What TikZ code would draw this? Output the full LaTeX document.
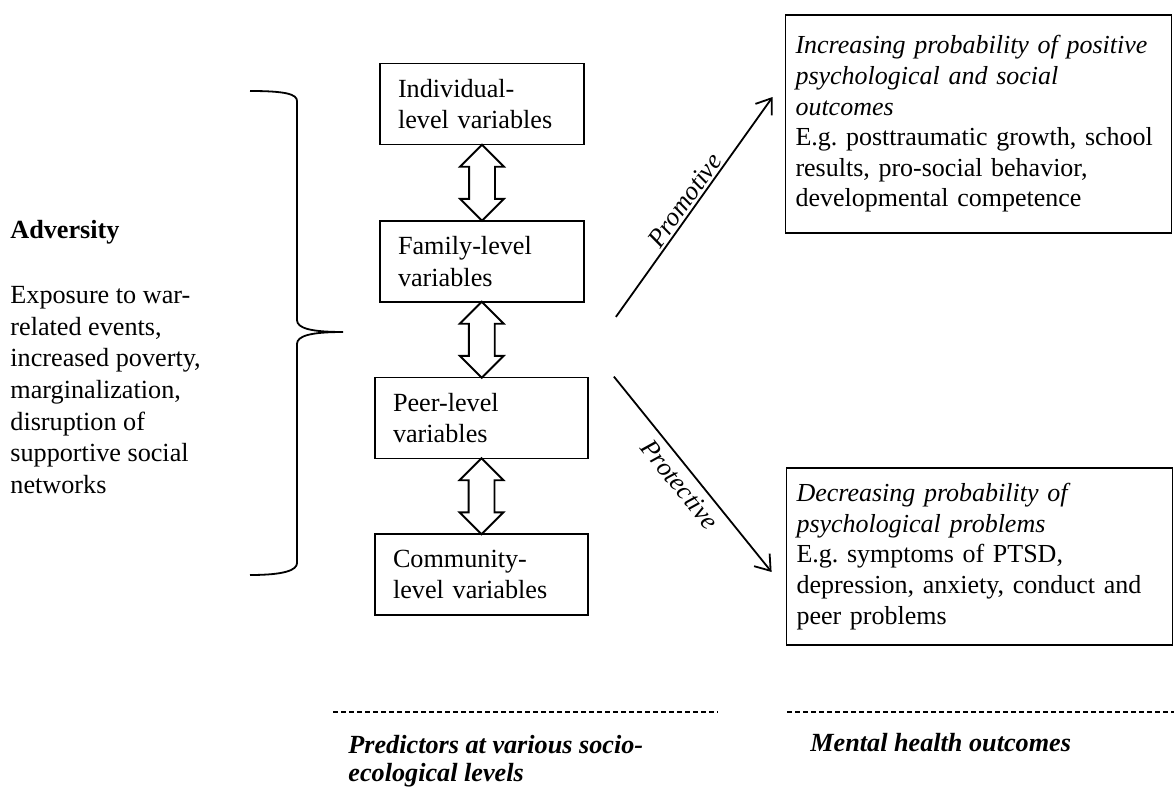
\documentclass[tikz,border=0pt]{standalone}
\usepackage{fontspec}
\setmainfont{Liberation Serif}
\usetikzlibrary{shapes.arrows,arrows.meta,calc}
\frenchspacing
\newcommand{\figfont}{\fontsize{13.1}{15.8}\selectfont}
\tikzset{
  level/.style   = {rectangle, draw, line width=0.9pt, text width=84pt, inner xsep=9pt, minimum height=40.5pt, align=left, font=\figfont},
  outcome/.style = {rectangle, draw, line width=0.9pt, text width=183pt, inner xsep=5pt, align=left, font=\fontsize{13}{15.3}\selectfont},
  dbl/.style     = {double arrow, draw, line width=0.9pt, minimum height=38pt, inner xsep=0pt, inner ysep=6pt, double arrow head extend=4.5pt, rotate=90},
  link/.style    = {line width=0.9pt, -{Straight Barb[length=7pt,width=10pt]}},
  et/.style      = {font=\itshape\figfont},
  txt/.style     = {align=left, inner sep=0pt, font=\figfont},
  head/.style    = {align=left, inner sep=0pt, font=\bfseries\itshape\fontsize{13.1}{14.2}\selectfont},
  rule/.style    = {dash pattern=on 2.5pt off 1.5pt, line width=0.6pt}
}

\begin{document}
\begin{tikzpicture}[x=0.5pt,y=-0.5pt]
  \useasboundingbox (0,0) rectangle (1174,787);
  % left side
  \node[txt, anchor=west, font=\bfseries\figfont] (adv) at (10,232) {Adversity};
  \node[txt, anchor=west] (exp) at (10,390) {Exposure to war-\\related events,\\increased poverty,\\marginalization,\\disruption of\\supportive social\\networks};
  \draw[line width=0.9pt] (250,91) .. controls (285,91) and (297,94) .. (297,101) -- (297,320)
    .. controls (297,328) and (310,332) .. (343,332) .. controls (310,332) and (297,336) .. (297,344)
    -- (297,563) .. controls (297,570) and (285,575) .. (250,575);
  % levels
  \node[level] (ind) at (482,104) {Individual-\\level variables};
  \node[level] (fam) at (482,261.5) {Family-level\\variables};
  \node[level, text width=88.5pt] (peer) at (481.5,418) {Peer-level\\variables};
  \node[level, text width=88.5pt] (com) at (481.5,574.5) {Community-\\level variables};
  \node[dbl] (d1) at ($(ind.south)!.5!(fam.north)$) {};
  \node[dbl] (d2) at ($(fam.south)!.5!(peer.north)$) {};
  \node[dbl] (d3) at ($(peer.south)!.5!(com.north)$) {};
  % outcomes
  \node[outcome, minimum height=109pt] (pos) at (978.5,124) {\itshape Increasing probability of positive\\psychological and social\\outcomes\\\upshape E.g. posttraumatic growth, school\\results, pro-social behavior,\\developmental competence};
  \node[outcome, minimum height=88.5pt] (neg) at (979.5,556.5) {\itshape Decreasing probability of\\psychological problems\\\upshape E.g. symptoms of PTSD,\\depression, anxiety, conduct and\\peer problems};
  \draw[link] ([shift={(31,14)}]fam.south east) -- node[et, above, sloped, inner sep=1pt] {Promotive} ([shift={(-12,-27)}]pos.west);
  \draw[link] ([shift={(25,0)}]peer.north east) -- node[et, below, sloped] {Protective} ([shift={(-14,15.5)}]neg.west);
  % bottom
  \draw[rule] (333,712) -- (718,712);
  \draw[rule] (787,712) -- (1174,712);
  \node[head, anchor=west] (pred) at (348,761) {Predictors at various socio-\\ecological levels};
  \node[head, anchor=west] (ment) at (810,743) {Mental health outcomes};
\end{tikzpicture}
\end{document}
